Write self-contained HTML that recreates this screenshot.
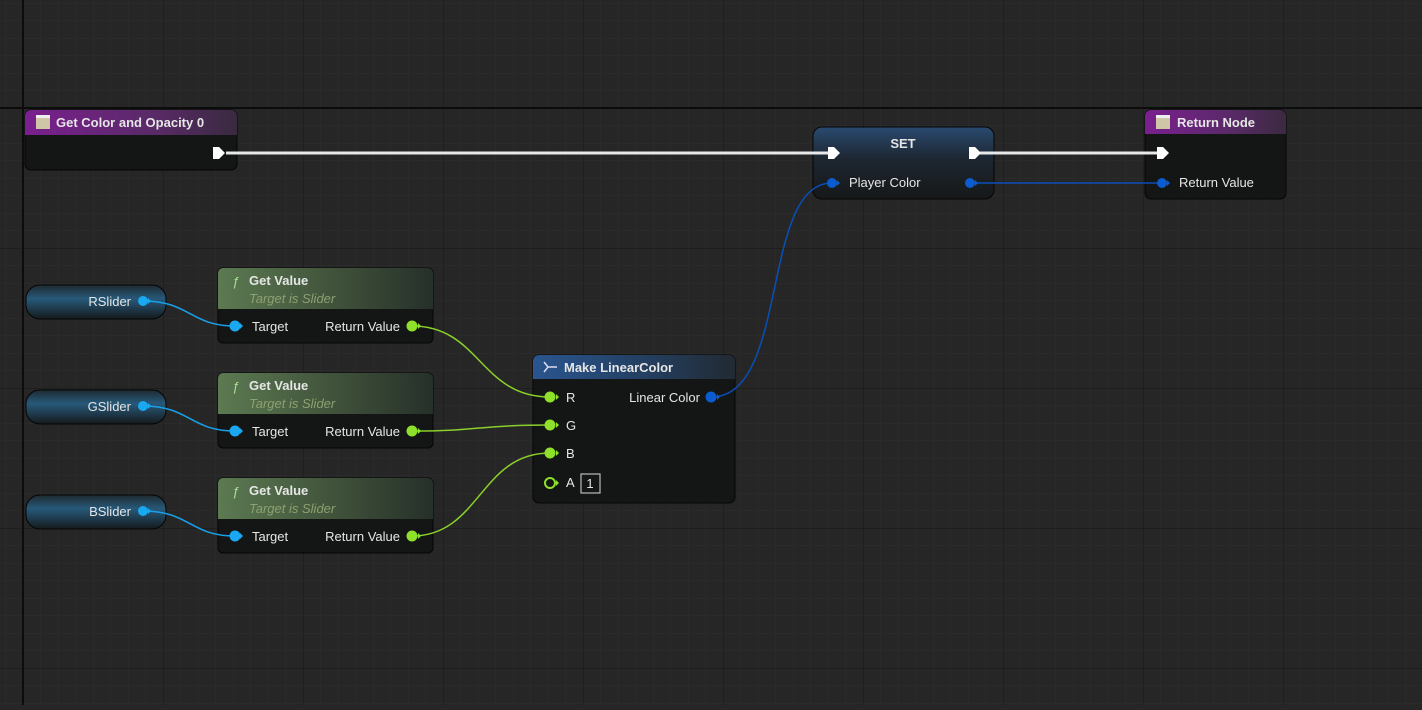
<!DOCTYPE html>
<html><head><meta charset="utf-8"><style>
html,body{margin:0;padding:0;background:#262626;overflow:hidden}
svg text{font-family:"Liberation Sans",sans-serif;font-size:13px;fill:#e6e6e6}
</style></head><body>
<svg width="1422" height="705" xmlns="http://www.w3.org/2000/svg">
<defs>
<pattern id="minor" x="23" y="108" width="17.5" height="17.5" patternUnits="userSpaceOnUse">
<path d="M0 0H17.5M0 0V17.5" stroke="#2f2f2f" stroke-width="1" fill="none"/></pattern>
<pattern id="major" x="23" y="108" width="140" height="140" patternUnits="userSpaceOnUse">
<path d="M0 0H140M0 0V140" stroke="#1a1a1a" stroke-width="1.2" fill="none"/></pattern>
<linearGradient id="purp" x1="0" y1="0" x2="1" y2="0"><stop offset="0" stop-color="#7a1f8f"/><stop offset="0.6" stop-color="#5a2a68"/><stop offset="1" stop-color="#3a2a40"/></linearGradient>
<linearGradient id="green" x1="0" y1="0" x2="1" y2="0"><stop offset="0" stop-color="#5c7a52"/><stop offset="0.6" stop-color="#3d4e38"/><stop offset="1" stop-color="#26302a"/></linearGradient>
<linearGradient id="blueh" x1="0" y1="0" x2="1" y2="0"><stop offset="0" stop-color="#2a5590"/><stop offset="0.6" stop-color="#233d5c"/><stop offset="1" stop-color="#222a33"/></linearGradient>
<linearGradient id="setg" x1="0" y1="0" x2="0" y2="1"><stop offset="0" stop-color="#2a4a70"/><stop offset="0.45" stop-color="#1d2630"/><stop offset="1" stop-color="#161818"/></linearGradient>
<linearGradient id="slid" x1="0" y1="0" x2="0" y2="1"><stop offset="0" stop-color="#1e2a30"/><stop offset="0.4" stop-color="#27597a"/><stop offset="1" stop-color="#151a1c"/></linearGradient>
</defs>
<rect width="1422" height="705" fill="#262626"/>
<rect width="1422" height="705" fill="url(#minor)"/>
<rect width="1422" height="705" fill="url(#major)"/>
<line x1="23" y1="0" x2="23" y2="705" stroke="#0c0c0c" stroke-width="2"/>
<line x1="0" y1="108" x2="1422" y2="108" stroke="#0c0c0c" stroke-width="2"/>

<!-- Get Color and Opacity -->
<rect x="25" y="110" width="212" height="60" rx="6" fill="#141515" stroke="#050505"/>
<path d="M25 116a6 6 0 0 1 6-6h200a6 6 0 0 1 6 6v19H25z" fill="url(#purp)"/>
<rect x="36" y="115" width="14" height="14" fill="#cfc6a8"/><rect x="36" y="115" width="14" height="3" fill="#eee"/>
<text x="56" y="127" font-weight="bold">Get Color and Opacity 0</text>

<!-- SET -->
<rect x="813" y="127" width="181" height="72" rx="9" fill="url(#setg)" stroke="#050505"/>
<text x="903" y="148" text-anchor="middle" font-weight="bold" font-size="12">SET</text>
<text x="849" y="187">Player Color</text>

<!-- Return Node -->
<rect x="1145" y="110" width="141" height="89" rx="6" fill="#141515" stroke="#050505"/>
<path d="M1145 116a6 6 0 0 1 6-6h129a6 6 0 0 1 6 6v18h-141z" fill="url(#purp)"/>
<rect x="1156" y="115" width="14" height="14" fill="#cfc6a8"/><rect x="1156" y="115" width="14" height="3" fill="#eee"/>
<text x="1177" y="127" font-weight="bold">Return Node</text>
<text x="1179" y="187">Return Value</text>

<!-- sliders & get value -->
<g id="row">
<rect x="26" y="285" width="140" height="34" rx="14" fill="url(#slid)" stroke="#050505"/>
<rect x="218" y="268" width="215" height="75" rx="5" fill="#141515" stroke="#050505"/>
<path d="M218 273a5 5 0 0 1 5-5h205a5 5 0 0 1 5 5v36h-215z" fill="url(#green)"/>
<text x="232" y="286" font-family="Liberation Serif" font-style="italic" font-size="17" style="fill:#a8e090">ƒ</text>
<text x="249" y="285" font-weight="bold">Get Value</text>
<text x="249" y="303" font-style="italic" style="fill:#8ea070" font-size="12.5">Target is Slider</text>
<text x="252" y="331">Target</text>
<text x="400" y="331" text-anchor="end">Return Value</text>
</g>
<use href="#row" y="105"/>
<use href="#row" y="210"/>
<text x="131" y="306" text-anchor="end">RSlider</text>
<text x="131" y="411" text-anchor="end">GSlider</text>
<text x="131" y="516" text-anchor="end">BSlider</text>

<!-- Make LinearColor -->
<rect x="533" y="355" width="202" height="148" rx="6" fill="#141515" stroke="#050505"/>
<path d="M533 361a6 6 0 0 1 6-6h190a6 6 0 0 1 6 6v18h-202z" fill="url(#blueh)"/>
<path d="M544 362l4 5-4 5M548 367h9" stroke="#dde" stroke-width="1.5" fill="none"/>
<text x="564" y="372" font-weight="bold">Make LinearColor</text>
<text x="566" y="402">R</text><text x="566" y="430">G</text><text x="566" y="458">B</text><text x="566" y="487">A</text>
<rect x="581" y="474" width="19" height="19" fill="none" stroke="#bbb" stroke-width="1.2"/>
<text x="590" y="488" text-anchor="middle" font-size="12">1</text>
<text x="700" y="402" text-anchor="end">Linear Color</text>

<!-- wires -->
<g fill="none">
<path d="M226 153H828" stroke="#e8e8e8" stroke-width="3"/>
<path d="M980 153H1158" stroke="#e8e8e8" stroke-width="3"/>
<path d="M970 183H1162" stroke="#0a4fb8" stroke-width="1.5"/>
<path d="M711 397C790 397 760 183 832 183" stroke="#0a4fb8" stroke-width="1.5"/>
<path d="M143 301C190 301 190 326 235 326" stroke="#1aa0e8" stroke-width="1.5"/>
<path d="M143 406C190 406 190 431 235 431" stroke="#1aa0e8" stroke-width="1.5"/>
<path d="M143 511C190 511 190 536 235 536" stroke="#1aa0e8" stroke-width="1.5"/>
<path d="M412 326C480 326 480 397 550 397" stroke="#8ad02a" stroke-width="1.5"/>
<path d="M412 431C480 431 480 425 550 425" stroke="#8ad02a" stroke-width="1.5"/>
<path d="M412 536C480 536 480 453 550 453" stroke="#8ad02a" stroke-width="1.5"/>
</g>

<!-- pins -->
<g fill="#fff">
<path d="M213 147h6l6 6-6 6h-6z"/>
<path d="M828 147h6l6 6-6 6h-6z"/>
<path d="M969 147h6l6 6-6 6h-6z"/>
<path d="M1157 147h6l6 6-6 6h-6z"/>
</g>
<g fill="#0a5cd0">
<circle cx="832" cy="183" r="5"/><path d="M837 180l3 3-3 3z"/>
<circle cx="970" cy="183" r="5"/><path d="M975 180l3 3-3 3z"/>
<circle cx="1162" cy="183" r="5"/><path d="M1167 180l3 3-3 3z"/>
<circle cx="711" cy="397" r="5.5"/><path d="M717 394l3 3-3 3z"/>
</g>
<g fill="#1aa8f0">
<circle cx="143" cy="301" r="5"/><path d="M148 298l3 3-3 3z"/>
<circle cx="143" cy="406" r="5"/><path d="M148 403l3 3-3 3z"/>
<circle cx="143" cy="511" r="5"/><path d="M148 508l3 3-3 3z"/>
<circle cx="235" cy="326" r="5.5"/><path d="M240 323l3 3-3 3z"/>
<circle cx="235" cy="431" r="5.5"/><path d="M240 428l3 3-3 3z"/>
<circle cx="235" cy="536" r="5.5"/><path d="M240 533l3 3-3 3z"/>
</g>
<g fill="#8ee02a">
<circle cx="412" cy="326" r="5.5"/><path d="M418 323l3 3-3 3z"/>
<circle cx="412" cy="431" r="5.5"/><path d="M418 428l3 3-3 3z"/>
<circle cx="412" cy="536" r="5.5"/><path d="M418 533l3 3-3 3z"/>
<circle cx="550" cy="397" r="5.5"/><path d="M556 394l3 3-3 3z"/>
<circle cx="550" cy="425" r="5.5"/><path d="M556 422l3 3-3 3z"/>
<circle cx="550" cy="453" r="5.5"/><path d="M556 450l3 3-3 3z"/>
<path d="M556 480l3 3-3 3z"/>
</g>
<circle cx="550" cy="483" r="5" fill="none" stroke="#8ee02a" stroke-width="2"/>
</svg>
</body></html>
